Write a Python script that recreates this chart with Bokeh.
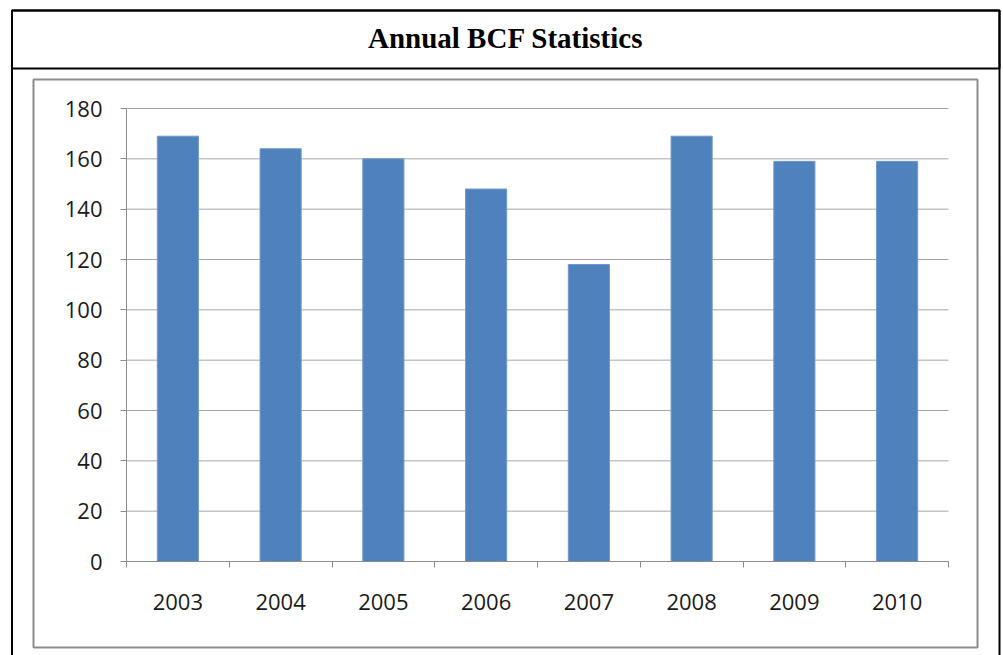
from bokeh.plotting import figure
from bokeh.models import BoxAnnotation, Label, FixedTicker, Range1d
from bokeh.embed import file_html
from bokeh.resources import INLINE

# Data
years = ["2003", "2004", "2005", "2006", "2007", "2008", "2009", "2010"]
values = [169, 164, 160, 148, 118, 169, 159, 159]
y_ticks = [0, 20, 40, 60, 80, 100, 120, 140, 160, 180]
title_text = "Annual BCF Statistics"

n = len(years)
centers = [i + 0.5 for i in range(n)]
boundaries = [i for i in range(n + 1)]

# Layout (canvas pixels)
W, H = 1003, 655
PL, PR, PT, PB = 126, 948, 108, 561   # plot-area edges
YMAX = 180
xs = (PR - PL) / n
ys = (PB - PT) / YMAX

p = figure(width=W, height=H, output_backend="svg", toolbar_location=None,
           title_location=None,
           x_range=Range1d(-PL / xs, n + (W - PR) / xs),
           y_range=Range1d(-(H - PB) / ys, YMAX + PT / ys),
           min_border=0, background_fill_color="white", border_fill_color="white")
p.outline_line_color = None
p.xgrid.visible = False
p.ygrid.visible = False

# horizontal gridlines across the plot area
p.segment(x0=[0] * len(y_ticks), x1=[n] * len(y_ticks), y0=y_ticks, y1=y_ticks,
          line_color="#a6a6a6", line_width=1)

p.vbar(x=centers, top=values, width=0.4, fill_color="#4F81BD",
       line_color="#7198C9", line_width=1)

# y axis
ya = p.yaxis[0]
ya.fixed_location = 0
ya.bounds = (0, YMAX)
ya.ticker = FixedTicker(ticks=y_ticks)
ya.axis_line_color = "#8c8c8c"
ya.major_tick_line_color = "#8c8c8c"
ya.major_tick_out = 6
ya.major_tick_in = 0
ya.minor_tick_line_color = None
ya.major_label_text_font = "Open Sans"
ya.major_label_text_font_size = "22px"
ya.major_label_text_color = "#1a1a1a"
ya.major_label_standoff = 18

# x axis
xa = p.xaxis[0]
xa.fixed_location = 0
xa.bounds = (0, n)
xa.ticker = FixedTicker(ticks=centers, minor_ticks=boundaries)
xa.major_label_overrides = {c: y for c, y in zip(centers, years)}
xa.axis_line_color = "#8c8c8c"
xa.major_tick_line_color = None
xa.major_tick_out = 0
xa.major_tick_in = 0
xa.minor_tick_line_color = "#8c8c8c"
xa.minor_tick_out = 6
xa.minor_tick_in = 0
xa.major_label_text_font = "Open Sans"
xa.major_label_text_font_size = "22px"
xa.major_label_text_color = "#1a1a1a"
xa.major_label_standoff = 26


def box(l, r, t, b, color):
    return BoxAnnotation(left=l, right=r, top=H - t, bottom=H - b,
                         left_units="screen", right_units="screen",
                         top_units="screen", bottom_units="screen",
                         fill_alpha=0, line_color=color, line_alpha=1.0,
                         line_width=2, level="overlay")


p.add_layout(box(11.5, 999, 10, 720, "black"))
p.add_layout(box(11.5, 999, 10, 68, "black"))
p.add_layout(box(33, 977, 79, 647, "#8c8c8c"))

p.add_layout(Label(x=(11.5 + 999) / 2, y=H - 37, x_units="screen", y_units="screen",
                   text=title_text, text_align="center", text_baseline="middle",
                   text_font="Liberation Serif", text_font_style="bold",
                   text_font_size="29px", text_color="black"))

open("out.html", "w").write(file_html(p, INLINE))
